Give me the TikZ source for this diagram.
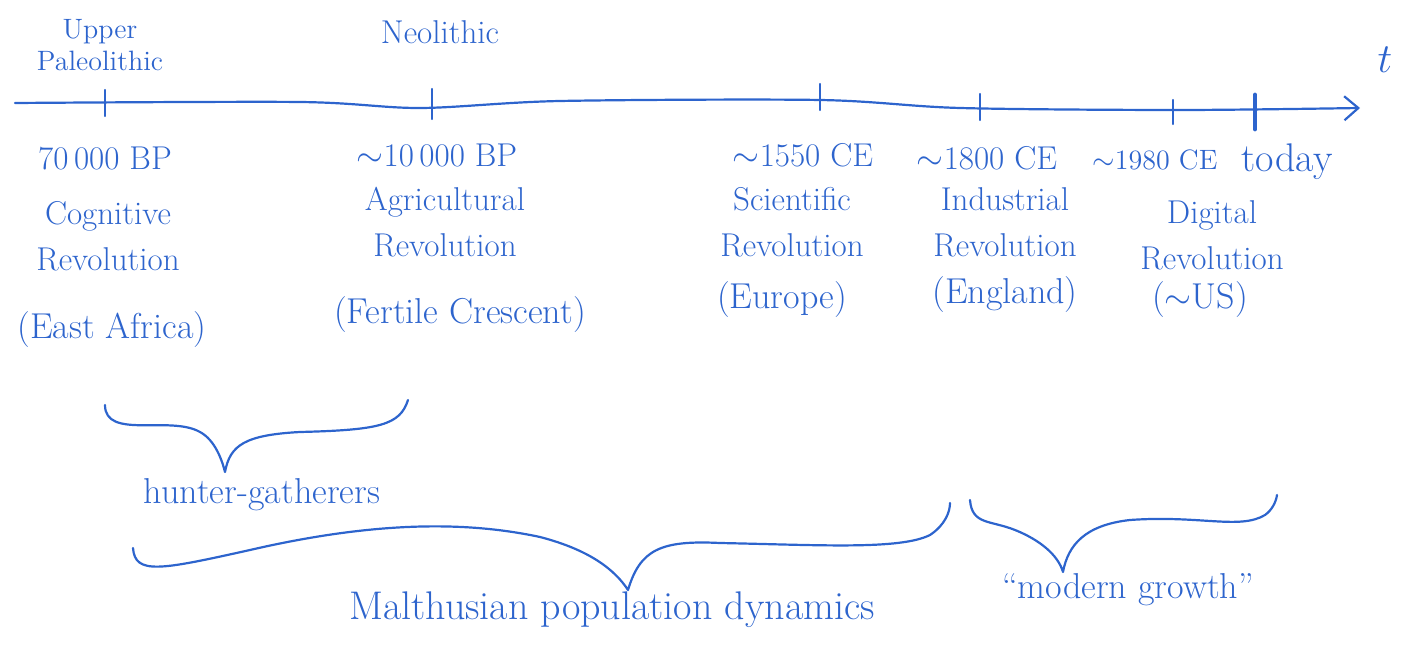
\documentclass[tikz,border=0pt]{standalone}
\usetikzlibrary{arrows.meta}
\definecolor{pen}{RGB}{45,100,205}
\begin{document}
\begin{tikzpicture}[x=0.5pt,y=-0.5pt,
  ink/.style={draw=pen, line width=1.1pt, line cap=round, line join=round},
  lbl/.style={text=pen, font=\fontsize{16.5}{23}\selectfont, align=center, inner sep=0pt},
  big/.style={text=pen, font=\fontsize{19}{24}\selectfont, inner sep=0pt},
  tick/.style={ink}]
\useasboundingbox (0,0) rectangle (1414,662);
% axis
\draw[ink, -{Straight Barb[length=7pt,width=12pt]}] plot[smooth, tension=0.5] coordinates
  {(15,103) (300,102) (420,108) (560,101) (820,100) (960,108) (1180,110) (1360,108)};
\coordinate (t1) at (105,102);
\coordinate (t2) at (432,107);
\coordinate (t3) at (820,100);
\coordinate (t4) at (980,108);
\coordinate (t5) at (1173,110);
\coordinate (t6) at (1255,111);
\foreach \t/\u/\d in {t1/-12/14, t2/-18/12, t3/-16/10, t4/-14/12, t5/-10/14} {
  \draw[tick] (\t) ++(0,\u) -- ++(0,\d-\u);
}
\draw[ink, line width=2.4pt] (t6) ++(0,-16) -- ++(0,34);
\node[lbl, font=\fontsize{22}{24}\selectfont] (t) at (1385,60) {$t$};
% era labels above
\node[lbl, font=\fontsize{14}{16}\selectfont] (up) at (100,45) {Upper\\Paleolithic};
\node[lbl] (neo) at (440,32) {Neolithic};
% event labels
\node[lbl] (d1) at (105,158) {70\,000 BP};
\node[lbl] (e1) at (108,236) {Cognitive\\Revolution};
\node[lbl, font=\fontsize{18}{22}\selectfont] (p1) at (112,330) {(East Africa)};
\node[lbl] (d2) at (437,155) {$\sim$10\,000 BP};
\node[lbl] (e2) at (445,222) {Agricultural\\Revolution};
\node[lbl, font=\fontsize{18}{22}\selectfont] (p2) at (460,315) {(Fertile Crescent)};
\node[lbl] (d3) at (803,155) {$\sim$1550 CE};
\node[lbl] (e3) at (792,222) {Scientific\\Revolution};
\node[lbl, font=\fontsize{18}{22}\selectfont] (p3) at (782,300) {(Europe)};
\node[lbl] (d4) at (987,158) {$\sim$1800 CE};
\node[lbl] (e4) at (1005,222) {Industrial\\Revolution};
\node[lbl, font=\fontsize{18}{22}\selectfont] (p4) at (1005,295) {(England)};
\node[lbl, font=\fontsize{14}{20}\selectfont] (d5) at (1155,160) {$\sim$1980 CE};
\node[lbl, font=\fontsize{20}{22}\selectfont] (d6) at (1287,162) {today};
\node[lbl] (e5) at (1212,235) {Digital\\Revolution};
\node[lbl, font=\fontsize{18}{22}\selectfont] (p5) at (1200,300) {($\sim$US)};
% braces
\coordinate (b1l) at (105,405); \coordinate (b1t) at (225,472); \coordinate (b1r) at (408,400);
\draw[ink] (b1l) .. controls (105,440) and (170,415) .. (200,432)
  .. controls (215,440) and (222,460) .. (b1t)
  .. controls (230,445) and (245,435) .. (300,432)
  .. controls (380,430) and (400,425) .. (b1r);
\node[big, font=\fontsize{18}{22}\selectfont] (hg) at (262,495) {hunter-gatherers};
\coordinate (b2l) at (133,548); \coordinate (b2t) at (628,590); \coordinate (b2r) at (950,503);
\draw[ink] (b2l) .. controls (135,575) and (160,570) .. (250,550)
  .. controls (380,520) and (470,522) .. (540,537)
  .. controls (590,550) and (615,570) .. (b2t)
  .. controls (640,550) and (660,540) .. (720,543)
  .. controls (820,545) and (900,550) .. (930,535)
  .. controls (945,525) and (950,512) .. (b2r);
\node[big, font=\fontsize{20}{24}\selectfont] (mal) at (612,610) {Malthusian population dynamics};
\coordinate (b3l) at (970,500); \coordinate (b3t) at (1063,572); \coordinate (b3r) at (1277,495);
\draw[ink] (b3l) .. controls (972,525) and (990,520) .. (1015,530)
  .. controls (1040,540) and (1058,555) .. (b3t)
  .. controls (1068,545) and (1085,525) .. (1130,520)
  .. controls (1200,515) and (1240,530) .. (1265,515)
  .. controls (1272,510) and (1276,502) .. (b3r);
\node[big, font=\fontsize{18}{22}\selectfont] (mg) at (1128,590) {``modern growth''};
\end{tikzpicture}
\end{document}
